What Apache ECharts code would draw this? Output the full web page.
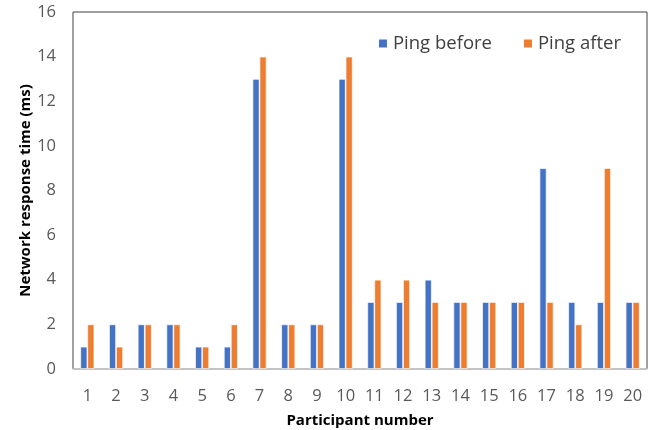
<!DOCTYPE html>
<html><head><meta charset="utf-8">
<script src="https://cdn.jsdelivr.net/npm/echarts@6/dist/echarts.min.js"></script>
<style>html,body{margin:0;padding:0;background:#fff}#c{width:656px;height:430px}</style>
</head><body><div id="c"></div>
<script>
const categories = ['1','2','3','4','5','6','7','8','9','10','11','12','13','14','15','16','17','18','19','20'];
const pingBefore = [1,2,2,2,1,1,13,2,2,13,3,3,4,3,3,3,9,3,3,3];
const pingAfter  = [2,1,2,2,1,2,14,2,2,14,4,4,3,3,3,3,3,2,9,3];
const FONT = 'Open Sans';
const chart = echarts.init(document.getElementById('c'));
chart.setOption({
  animation:false,
  textStyle:{fontFamily:FONT},
  grid:{left:73,right:9,top:12,bottom:61,containLabel:false,outerBoundsMode:'none',show:true,borderColor:'#404040',borderWidth:1,backgroundColor:'transparent'},
  legend:{top:29,right:30,itemWidth:10,itemHeight:10,itemGap:30,icon:'rect',
    textStyle:{fontFamily:FONT,fontSize:18.5,color:'#404040'},
    data:['Ping before','Ping after']},
  xAxis:{type:'category',data:categories,
    name:'Participant number',nameLocation:'middle',nameGap:44,
    nameTextStyle:{fontFamily:FONT,fontWeight:'bold',fontSize:15,color:'#000'},
    axisLine:{lineStyle:{color:'#d0d0d0',width:1.5}},axisTick:{show:false},
    axisLabel:{fontSize:16.5,color:'#595959',margin:19}},
  yAxis:{type:'value',min:0,max:16,interval:2,
    name:'Network response time (ms)',nameLocation:'middle',nameGap:40,nameMoveOverlap:false,
    nameTextStyle:{fontFamily:FONT,fontWeight:'bold',fontSize:15,color:'#000'},
    splitLine:{show:false},axisLine:{show:false},axisTick:{show:false},
    axisLabel:{fontSize:16.5,color:'#595959',margin:17}},
  series:[
    {name:'Ping before',type:'bar',data:pingBefore,barWidth:7,barGap:'0%',
     itemStyle:{color:'#4472C4',borderColor:'#fff',borderWidth:0.7}},
    {name:'Ping after',type:'bar',data:pingAfter,barWidth:7,
     itemStyle:{color:'#ED7D31',borderColor:'#fff',borderWidth:0.7}}
  ]
});
</script></body></html>
